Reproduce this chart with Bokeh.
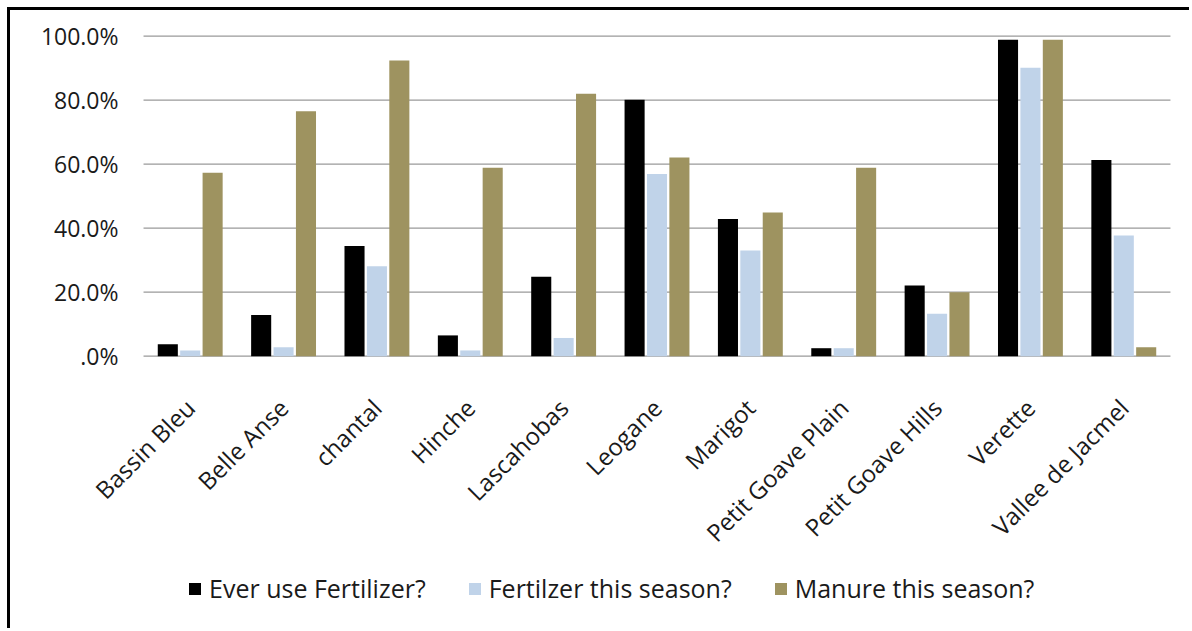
from bokeh.plotting import figure
from bokeh.models import ColumnDataSource, Legend, LegendItem, LabelSet
from bokeh.core.properties import value
from bokeh.transform import dodge
from bokeh.embed import file_html
from bokeh.resources import INLINE
import math

# Survey sites and the share of farmers answering "yes" (percent)
sites = ["Bassin Bleu", "Belle Anse", "chantal", "Hinche", "Lascahobas", "Leogane",
         "Marigot", "Petit Goave Plain", "Petit Goave Hills", "Verette", "Vallee de Jacmel"]
ever_fertilizer = [3.7, 12.9, 34.4, 6.5, 24.8, 80.1, 42.9, 2.5, 22.1, 98.9, 61.3]
fertilizer_season = [1.8, 2.8, 28.1, 1.8, 5.7, 56.9, 33.0, 2.5, 13.3, 90.1, 37.7]
manure_season = [57.3, 76.5, 92.4, 58.9, 82.0, 62.1, 44.9, 58.9, 20.0, 98.9, 2.8]

series_names = ["Ever use Fertilizer?", "Fertilzer this season?", "Manure this season?"]
y_ticks = [0, 20, 40, 60, 80, 100]
y_tick_labels = [".0%", "20.0%", "40.0%", "60.0%", "80.0%", "100.0%"]

FONT = "Open Sans"
TEXT = "#1a1a1a"
GRID = "#9a9a9a"
COLORS = ["#000000", "#c0d3e9", "#9e9360"]

n = len(sites)
centers = [i + 0.5 for i in range(n)]  # one unit-wide slot per site
bars = ColumnDataSource(dict(pos=centers, base=[0] * n, site=sites, ever=ever_fertilizer,
                             season=fertilizer_season, manure=manure_season))
scale = ColumnDataSource(dict(x0=[0] * len(y_ticks), x1=[n] * len(y_ticks),
                              y=y_ticks, label=y_tick_labels))

# A single frame covers the whole chart: the value scale sits on the left,
# site names and the key live below the 0% line.
p = figure(width=1182, height=621, x_range=(-1.425, 11.236), y_range=(-86.0, 108.0),
           x_axis_location=None, y_axis_location=None,
           output_backend="svg", toolbar_location=None,
           min_border_left=0, min_border_right=0, min_border_top=0, min_border_bottom=0)
p.styles = {"margin-left": "7px", "margin-top": "7px",
            "border-left": "3px solid #000", "border-top": "3px solid #000"}
p.outline_line_color = None
p.background_fill_color = "white"
p.border_fill_color = "white"
p.xgrid.visible = False
p.ygrid.visible = False

# Horizontal gridlines at each percentage tick
p.segment(x0="x0", x1="x1", y0="y", y1="y", source=scale, line_color=GRID, line_width=1.2)

offsets = [-0.24, 0.0, 0.24]
fields = ["ever", "season", "manure"]
renderers = []
for field, off, color in zip(fields, offsets, COLORS):
    r = p.vbar(x=dodge("pos", off), top=field, width=0.215, bottom=0,
               source=bars, fill_color=color, line_color=None)
    renderers.append(r)

# Percentage labels left of the gridlines
p.add_layout(LabelSet(x="x0", y="y", text="label", source=scale,
                      x_offset=-25, text_align="right", text_baseline="middle",
                      text_font=value(FONT), text_font_size="23px", text_color=TEXT))

# Site names, slanted 45 degrees, ending at each group's centre
p.add_layout(LabelSet(x="pos", y="base", text="site", source=bars,
                      angle=math.pi / 4, text_align="right", text_baseline="middle",
                      x_offset=0, y_offset=-47,
                      text_font=value(FONT), text_font_size="24px", text_color=TEXT))

legend = Legend(items=[LegendItem(label=s, renderers=[r]) for s, r in zip(series_names, renderers)],
                orientation="horizontal", location=(177, 26),
                glyph_width=15, glyph_height=15, label_standoff=7, spacing=41,
                padding=0, margin=0, border_line_color=None, background_fill_alpha=0,
                label_text_font=FONT, label_text_font_size="25px", label_text_color=TEXT)
p.add_layout(legend, "center")

open("out.html", "w").write(file_html(p, INLINE))
